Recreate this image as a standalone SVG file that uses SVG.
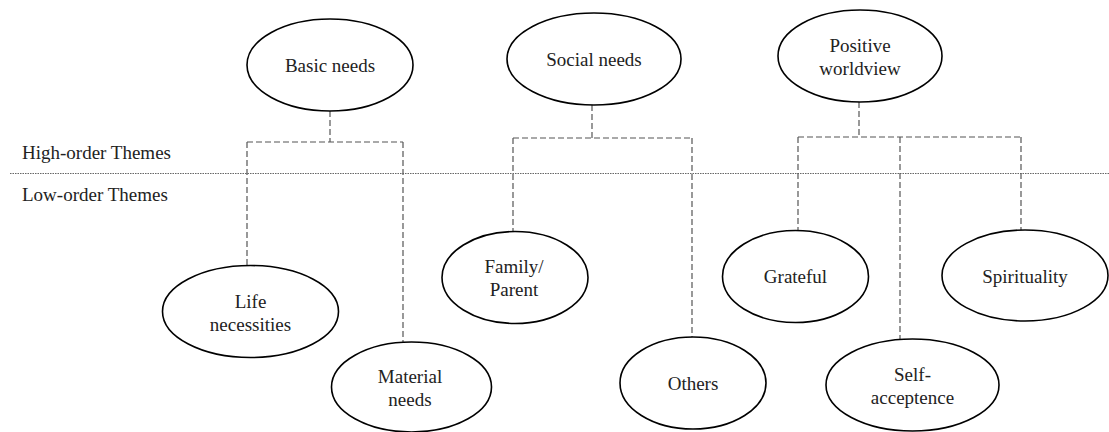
<svg xmlns="http://www.w3.org/2000/svg" width="1109" height="432" viewBox="0 0 1109 432">
<style>
.n ellipse{fill:#fff;stroke:#000;stroke-width:1.6}
text{font-family:'Liberation Serif',Tinos,Times,'DejaVu Serif',serif;font-size:19px;fill:#222}
.c{text-anchor:middle}
.conn path{fill:none;stroke:#555;stroke-width:1.2;stroke-dasharray:6,3}
.sep{stroke:#666;stroke-width:1;stroke-dasharray:1.5,1}
</style>
<rect width="1109" height="432" fill="#fff"/>
<line class="sep" x1="10" y1="173.5" x2="1109" y2="173.5"/>
<text x="22" y="159">High-order Themes</text>
<text x="22" y="201">Low-order Themes</text>
<g class="conn" id="connectors">
<path d="M330,111 V142 M247,142 H403 M247,142 V266 M403,142 V342"/>
<path d="M592,105 V138 M513,138 H692 M513,138 V232 M692,138 V337"/>
<path d="M859,102 V137 M798,137 H1021 M798,137 V231 M900,137 V339 M1021,137 V230"/>
</g>
<g class="n" id="basic-needs"><ellipse cx="330" cy="65" rx="83" ry="46"/><text class="c" x="330" y="72">Basic needs</text></g>
<g class="n" id="social-needs"><ellipse cx="594" cy="59" rx="87" ry="46"/><text class="c" x="594" y="66">Social needs</text></g>
<g class="n" id="positive-worldview"><ellipse cx="860" cy="56" rx="82" ry="46"/><text class="c" x="860" y="52">Positive</text><text class="c" x="860" y="75">worldview</text></g>
<g class="n" id="life-necessities"><ellipse cx="250.5" cy="311.5" rx="88" ry="46"/><text class="c" x="250.5" y="308">Life</text><text class="c" x="250.5" y="331">necessities</text></g>
<g class="n" id="material-needs"><ellipse cx="411.5" cy="387" rx="80" ry="45"/><text class="c" x="410" y="383">Material</text><text class="c" x="410" y="406">needs</text></g>
<g class="n" id="family-parent"><ellipse cx="515" cy="277.5" rx="73" ry="46"/><text class="c" x="514" y="273">Family/</text><text class="c" x="514" y="296">Parent</text></g>
<g class="n" id="others"><ellipse cx="693" cy="383" rx="73" ry="46"/><text class="c" x="693" y="390">Others</text></g>
<g class="n" id="grateful"><ellipse cx="795.5" cy="276.5" rx="73" ry="46"/><text class="c" x="795.5" y="283">Grateful</text></g>
<g class="n" id="spirituality"><ellipse cx="1025" cy="275.5" rx="83" ry="45.5"/><text class="c" x="1025" y="282.5">Spirituality</text></g>
<g class="n" id="self-acceptence"><ellipse cx="912.5" cy="385" rx="86.5" ry="46"/><text class="c" x="912.5" y="381">Self-</text><text class="c" x="912.5" y="404">acceptence</text></g>
</svg>
